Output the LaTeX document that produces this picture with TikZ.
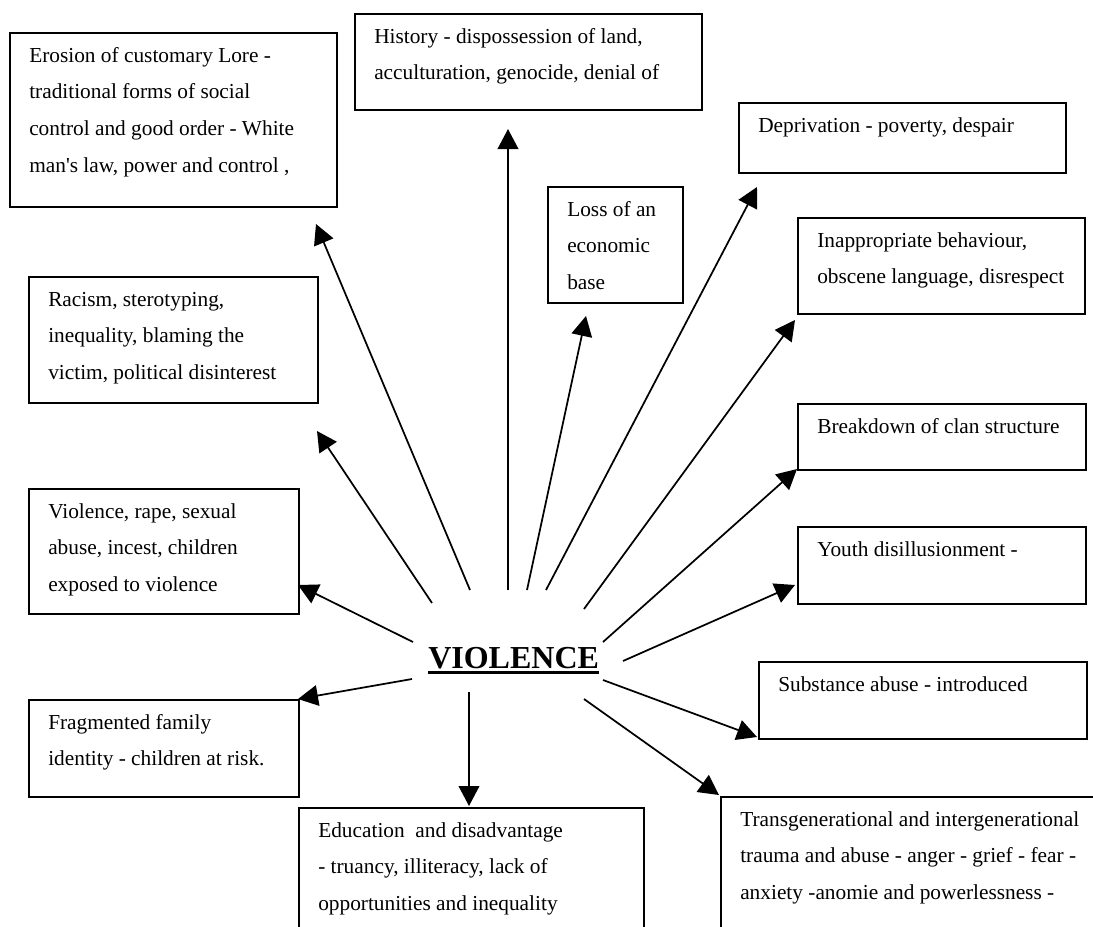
\documentclass[tikz,border=0pt]{standalone}
\usepackage{fontspec}
\setmainfont{Liberation Serif}
\usetikzlibrary{arrows.meta}
\newcommand\boxlines[1]{\vtop{\baselineskip=27.5pt\lineskiplimit=-100pt\halign{##\hfil\cr#1\crcr}}}
\newcommand\sq{\XeTeXglyph\XeTeXcharglyph"0027\relax}
\begin{document}
\begin{tikzpicture}[x=0.75pt,y=-0.75pt,
  frame/.style={draw=black, line width=1.4pt, rectangle, inner sep=0pt, anchor=north west},
  txt/.style={anchor=base west, inner sep=0pt, xshift=15pt, yshift=-22.5pt, font=\fontsize{16}{27.5}\selectfont},
  arr/.style={line width=1.3pt, -{Triangle[length=15pt,width=15.5pt]}},
]
\useasboundingbox (0,0) rectangle (1093,926);
\clip (0,0) rectangle (1093,926);
\fill[white] (0,0) rectangle (1093,926);

% frames
\node[frame, minimum width=245.25pt, minimum height=130.5pt] (ero) at (9,32) {};
\node[frame, minimum width=260.25pt, minimum height=72pt] (his) at (354,13) {};
\node[frame, minimum width=101.25pt, minimum height=87pt] (los) at (547,186) {};
\node[frame, minimum width=245.25pt, minimum height=52.5pt] (dep) at (738,102) {};
\node[frame, minimum width=215.25pt, minimum height=72pt] (ina) at (797,217) {};
\node[frame, minimum width=216.75pt, minimum height=94.5pt] (rac) at (28,276) {};
\node[frame, minimum width=216pt, minimum height=49.5pt] (bre) at (797,403) {};
\node[frame, minimum width=202.5pt, minimum height=93.75pt] (rap) at (28,488) {};
\node[frame, minimum width=216pt, minimum height=57.75pt] (you) at (797,526) {};
\node[frame, minimum width=246pt, minimum height=57.75pt] (sub) at (758,661) {};
\node[frame, minimum width=202.5pt, minimum height=72.75pt] (fra) at (28,699) {};
\node[frame, minimum width=258.75pt, minimum height=114.75pt] (edu) at (298,807) {};
\node[frame, minimum width=292.5pt, minimum height=123pt] (tra) at (720,796) {};

% texts
\node[txt] (eroT) at (ero.north west) {\boxlines{Erosion of customary Lore -\cr traditional forms of social\cr control and good order - White\cr man\sq s law, power and control ,}};
\node[txt] (hisT) at (his.north west) {\boxlines{History - dispossession of land,\cr acculturation, genocide, denial of}};
\node[txt] (losT) at (los.north west) {\boxlines{Loss of an\cr economic\cr base}};
\node[txt] (depT) at (dep.north west) {\boxlines{Deprivation - poverty, despair}};
\node[txt] (inaT) at (ina.north west) {\boxlines{Inappropriate behaviour,\cr obscene language, disrespect}};
\node[txt] (racT) at (rac.north west) {\boxlines{Racism, sterotyping,\cr inequality, blaming the\cr victim, political disinterest}};
\node[txt] (breT) at (bre.north west) {\boxlines{Breakdown of clan structure}};
\node[txt] (rapT) at (rap.north west) {\boxlines{Violence, rape, sexual\cr abuse, incest, children\cr exposed to violence}};
\node[txt] (youT) at (you.north west) {\boxlines{Youth disillusionment -}};
\node[txt] (subT) at (sub.north west) {\boxlines{Substance abuse - introduced}};
\node[txt] (fraT) at (fra.north west) {\boxlines{Fragmented family\cr identity - children at risk.}};
\node[txt] (eduT) at (edu.north west) {\boxlines{Education\ \ and disadvantage\cr - truancy, illiteracy, lack of\cr opportunities and inequality}};
\node[txt] (traT) at (tra.north west) {\boxlines{Transgenerational and intergenerational\cr trauma and abuse - anger - grief - fear -\cr anxiety -anomie and powerlessness -}};

% centre
\node[anchor=base west, inner sep=0pt, font=\fontsize{24}{28}\selectfont\bfseries] (vio) at (428,668) {VIOLENCE};
\draw[line width=2.4pt] ([yshift=-3.6pt]vio.base west) -- ([yshift=-3.6pt]vio.base east);

% arrow ends
\coordinate (sEro) at (470,590); \coordinate (tEro) at (316,224);
\coordinate (sHis) at (508,590); \coordinate (tHis) at (508,129);
\coordinate (sLos) at (527,590); \coordinate (tLos) at (586,316);
\coordinate (sDep) at (546,590); \coordinate (tDep) at (757,187);
\coordinate (sIna) at (584,609); \coordinate (tIna) at (795,320);
\coordinate (sRac) at (432,603); \coordinate (tRac) at (317,431);
\coordinate (sBre) at (603,642); \coordinate (tBre) at (797,469);
\coordinate (sRap) at (413,642); \coordinate (tRap) at (298,585);
\coordinate (sYou) at (623,661); \coordinate (tYou) at (795,585);
\coordinate (sSub) at (603,680); \coordinate (tSub) at (757,737);
\coordinate (sFra) at (412,679); \coordinate (tFra) at (298,699);
\coordinate (sEdu) at (469,692); \coordinate (tEdu) at (469,806);
\coordinate (sTra) at (584,699); \coordinate (tTra) at (719,795);

\foreach \n in {Ero,His,Los,Dep,Ina,Rac,Bre,Rap,You,Sub,Fra,Edu,Tra}
  \draw[arr] (s\n) -- (t\n);
\end{tikzpicture}
\end{document}
